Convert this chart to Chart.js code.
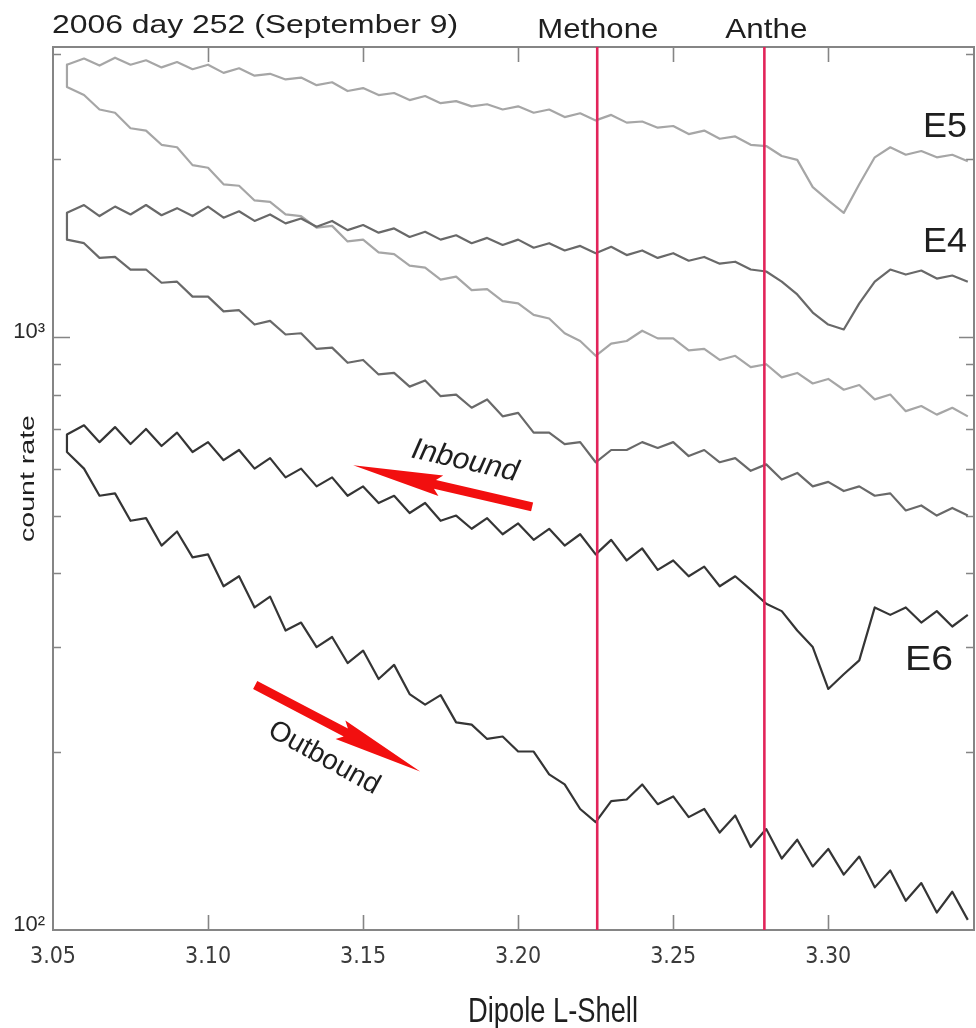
<!DOCTYPE html>
<html>
<head>
<meta charset="utf-8">
<script src="https://cdn.jsdelivr.net/npm/chart.js@4.4.0/dist/chart.umd.min.js"></script>
<style>
  html, body { margin: 0; padding: 0; background: #ffffff; }
  #wrap { width: 976px; height: 1028px; position: relative; }
  canvas { display: block; }
</style>
</head>
<body>
<div id="wrap"><canvas id="c" width="976" height="1028"></canvas></div>
<script>
// ---------- data ----------
const lShell = [3.0545, 3.060, 3.065, 3.070, 3.075, 3.080, 3.085, 3.090, 3.095, 3.100,
  3.105, 3.110, 3.115, 3.120, 3.125, 3.130, 3.135, 3.140, 3.145, 3.150,
  3.155, 3.160, 3.165, 3.170, 3.175, 3.180, 3.185, 3.190, 3.195, 3.200,
  3.205, 3.210, 3.215, 3.220, 3.225, 3.230, 3.235, 3.240, 3.245, 3.250,
  3.255, 3.260, 3.265, 3.270, 3.275, 3.280, 3.285, 3.290, 3.295, 3.300,
  3.305, 3.310, 3.315, 3.320, 3.325, 3.330, 3.335, 3.340, 3.345];

// inbound = upper branch, outbound = lower branch (values listed at increasing L)
const e5Inbound = [2880, 2950, 2870, 2960, 2880, 2930, 2850, 2910, 2830, 2880,
  2790, 2840, 2760, 2780, 2720, 2740, 2660, 2690, 2600, 2630,
  2560, 2580, 2510, 2550, 2480, 2500, 2450, 2470, 2420, 2450,
  2390, 2420, 2350, 2385, 2320, 2370, 2300, 2310, 2255, 2270,
  2200, 2230, 2160, 2180, 2110, 2100, 2020, 1990, 1790, 1700,
  1620, 1810, 2010, 2090, 2030, 2060, 2010, 2030, 1980];
const e5Outbound = [2640, 2560, 2420, 2390, 2250, 2230, 2110, 2090, 1950, 1930,
  1810, 1800, 1700, 1690, 1610, 1600, 1530, 1540, 1450, 1460,
  1390, 1380, 1320, 1310, 1250, 1265, 1200, 1205, 1150, 1140,
  1090, 1075, 1015, 985, 930, 975, 985, 1025, 995, 995,
  950, 955, 915, 930, 890, 900, 855, 870, 835, 850,
  815, 830, 785, 800, 750, 765, 740, 760, 735];
const e4Inbound = [1620, 1670, 1600, 1660, 1610, 1670, 1605, 1650, 1600, 1660,
  1590, 1630, 1570, 1610, 1555, 1585, 1535, 1570, 1515, 1545,
  1500, 1525, 1475, 1505, 1460, 1485, 1440, 1470, 1430, 1460,
  1415, 1440, 1400, 1425, 1385, 1420, 1375, 1400, 1360, 1385,
  1345, 1365, 1330, 1340, 1300, 1290, 1240, 1180, 1100, 1050,
  1030, 1140, 1240, 1300, 1275, 1295, 1255, 1270, 1240];
const e4Outbound = [1460, 1440, 1360, 1365, 1300, 1300, 1235, 1240, 1170, 1170,
  1105, 1110, 1050, 1065, 1010, 1015, 955, 960, 905, 915,
  865, 870, 825, 845, 795, 800, 760, 785, 735, 745,
  690, 690, 660, 665, 615, 645, 645, 665, 650, 665,
  630, 645, 615, 625, 595, 610, 575, 590, 560, 570,
  550, 560, 540, 545, 510, 520, 500, 515, 500];
const e6Inbound = [685, 710, 665, 705, 660, 700, 655, 690, 640, 665,
  620, 645, 600, 625, 580, 600, 560, 580, 540, 560,
  525, 540, 505, 525, 490, 500, 475, 495, 465, 485,
  455, 475, 445, 465, 430, 455, 420, 440, 405, 420,
  395, 410, 380, 395, 375, 355, 345, 320, 300, 255,
  270, 285, 350, 340, 350, 330, 345, 325, 340];
const e6Outbound = [640, 600, 540, 545, 490, 495, 445, 470, 425, 430,
  380, 395, 350, 365, 320, 330, 300, 312, 282, 296,
  265, 280, 250, 240, 249, 224, 222, 210, 212, 200,
  200, 183, 176, 160, 152, 165, 166, 176, 163, 168,
  155, 160, 146, 156, 138, 148, 132, 142, 128, 137,
  124, 133, 118, 126, 112, 120, 107, 116, 104];

const channelNames = ['E5', 'E4', 'E6'];
const moonNames = ['Methone', 'Anthe'];
const moonL = [3.2255, 3.2794];

const xTickValues = [3.05, 3.10, 3.15, 3.20, 3.25, 3.30];
const xTickLabels = ['3.05', '3.10', '3.15', '3.20', '3.25', '3.30'];
const yTickValues = [100, 200, 300, 400, 500, 600, 700, 800, 900, 1000, 2000, 3000];
const yMajorValues = [100, 1000];
const yMajorLabels = ['10\u00B2', '10\u00B3'];

// arrows in data units: [L, count]
const inboundArrow = { from: [3.2045, 517], to: [3.1468, 608] };
const outboundArrow = { from: [3.1152, 259], to: [3.1684, 185] };

// ---------- build datasets ----------
function loop(inb, outb) {
  const pts = [];
  for (let i = lShell.length - 1; i >= 0; i--) pts.push({ x: lShell[i], y: inb[i] });
  for (let i = 0; i < lShell.length; i++) pts.push({ x: lShell[i], y: outb[i] });
  return pts;
}
const channelData = [loop(e5Inbound, e5Outbound), loop(e4Inbound, e4Outbound), loop(e6Inbound, e6Outbound)];
const channelColors = ['#a6a6a6', '#696969', '#353535'];
const datasets = [];
channelNames.forEach((n, i) => {
  datasets.push({ label: n, data: channelData[i], borderColor: channelColors[i], borderWidth: 2.2,
    borderJoinStyle: 'round', pointRadius: 0, tension: 0, fill: false, order: 3 - i });
});
moonNames.forEach((n, i) => {
  datasets.push({ label: n, data: [{ x: moonL[i], y: 100 }, { x: moonL[i], y: 3085 }],
    borderColor: '#e2245a', borderWidth: 2.6, pointRadius: 0, fill: false, order: 0 });
});

// ---------- drawing helpers ----------
function stretchText(ctx, str, o) {
  ctx.save();
  ctx.translate(o.x, o.y);
  if (o.angle) ctx.rotate(o.angle * Math.PI / 180);
  ctx.font = (o.italic ? 'italic ' : '') + o.size + 'px "Liberation Sans", Arial, sans-serif';
  ctx.fillStyle = o.color || '#1f1f1f';
  ctx.textAlign = o.align || 'left';
  ctx.textBaseline = o.baseline || 'alphabetic';
  if (o.width) { const w = ctx.measureText(str).width; ctx.scale(o.width / w, 1); }
  ctx.fillText(str, 0, 0);
  ctx.restore();
}
function drawArrow(ctx, x0, y0, x1, y1, shaftHalf, headLen, headHalf) {
  const dx = x1 - x0, dy = y1 - y0, L = Math.hypot(dx, dy);
  const ux = dx / L, uy = dy / L, px = -uy, py = ux;
  const bx = x1 - ux * headLen, by = y1 - uy * headLen;
  ctx.beginPath();
  ctx.moveTo(x0 + px * shaftHalf, y0 + py * shaftHalf);
  ctx.lineTo(bx + px * shaftHalf, by + py * shaftHalf);
  ctx.lineTo(bx - ux * 6 + px * headHalf, by - uy * 6 + py * headHalf);
  ctx.lineTo(x1, y1);
  ctx.lineTo(bx - ux * 6 - px * headHalf, by - uy * 6 - py * headHalf);
  ctx.lineTo(bx - px * shaftHalf, by - py * shaftHalf);
  ctx.lineTo(x0 - px * shaftHalf, y0 - py * shaftHalf);
  ctx.closePath();
  ctx.fill();
}

const framePlugin = {
  id: 'frame',
  beforeDatasetsDraw(chart) {
    const { ctx, chartArea: a, scales: { x, y } } = chart;
    ctx.save();
    ctx.strokeStyle = '#858585';
    ctx.lineWidth = 2;
    ctx.strokeRect(a.left, a.top, a.right - a.left, a.bottom - a.top);
    ctx.lineWidth = 1.6;
    ctx.beginPath();
    xTickValues.forEach(v => {
      const px = Math.round(x.getPixelForValue(v)) + 0.5;
      if (px < a.left + 3) return;
      ctx.moveTo(px, a.bottom); ctx.lineTo(px, a.bottom - 15);
      ctx.moveTo(px, a.top); ctx.lineTo(px, a.top + 15);
    });
    yTickValues.forEach(v => {
      const py = Math.round(y.getPixelForValue(v)) + 0.5;
      if (py > a.bottom - 3) return;
      const major = yMajorValues.includes(v);
      ctx.moveTo(a.left, py); ctx.lineTo(a.left + (major ? 17 : 8), py);
      ctx.moveTo(a.right, py); ctx.lineTo(a.right - (major ? 15 : 8), py);
    });
    ctx.stroke();
    ctx.restore();
  },
  afterDatasetsDraw(chart) {
    const { ctx, scales: { x, y } } = chart;
    ctx.save();
    ctx.fillStyle = '#f20f0f';
    [inboundArrow, outboundArrow].forEach(ar => {
      drawArrow(ctx, x.getPixelForValue(ar.from[0]), y.getPixelForValue(ar.from[1]),
        x.getPixelForValue(ar.to[0]), y.getPixelForValue(ar.to[1]), 4.5, 84, 10.5);
    });
    ctx.restore();
  },
  afterDraw(chart) {
    const { ctx, scales: { x } } = chart;
    stretchText(ctx, '2006 day 252 (September 9)', { x: 52, y: 33, size: 25.5, width: 406 });
    stretchText(ctx, moonNames[0], { x: x.getPixelForValue(moonL[0]) + 0.5, y: 38, size: 28, width: 121, align: 'center' });
    stretchText(ctx, moonNames[1], { x: x.getPixelForValue(moonL[1]) + 2, y: 38, size: 28, width: 82, align: 'center' });
    stretchText(ctx, channelNames[0], { x: 923, y: 137, size: 35, width: 44 });
    stretchText(ctx, channelNames[1], { x: 923, y: 252, size: 35, width: 44 });
    stretchText(ctx, channelNames[2], { x: 905, y: 670, size: 35, width: 48 });
    stretchText(ctx, 'count rate', { x: 34, y: 478.5, angle: -90, size: 20.5, width: 127, align: 'center' });
    stretchText(ctx, 'Dipole L-Shell', { x: 468, y: 1022, size: 35, width: 170 });
    stretchText(ctx, 'Inbound', { x: 465, y: 461, angle: 12.7, size: 30, italic: true, align: 'center', baseline: 'middle' });
    stretchText(ctx, 'Outbound', { x: 324, y: 758, angle: 29, size: 28, align: 'center', baseline: 'middle' });
  }
};

new Chart(document.getElementById('c').getContext('2d'), {
  type: 'line',
  data: { datasets },
  options: {
    responsive: false,
    animation: false,
    devicePixelRatio: 1,
    layout: { padding: { top: 47, right: 2, left: 0, bottom: 0 } },
    plugins: { legend: { display: false }, tooltip: { enabled: false }, title: { display: false } },
    scales: {
      x: {
        type: 'linear', min: 3.05, max: 3.347,
        grid: { display: false, drawTicks: false },
        border: { display: false },
        afterBuildTicks: s => { s.ticks = xTickValues.map(v => ({ value: v })); },
        afterFit: s => { s.height = 98; },
        ticks: {
          autoSkip: false, maxRotation: 0, padding: 13, color: '#3a3a3a',
          font: { family: '"Liberation Sans Narrow", "DejaVu Sans Condensed", "Liberation Sans", sans-serif', size: 23 },
          callback: v => { const i = xTickValues.indexOf(v); return i >= 0 ? xTickLabels[i] : ''; }
        }
      },
      y: {
        type: 'logarithmic', min: 100, max: 3085,
        grid: { display: false, drawTicks: false },
        border: { display: false },
        afterBuildTicks: s => { s.ticks = yTickValues.map(v => ({ value: v })); },
        afterFit: s => { s.width = 53; },
        ticks: {
          autoSkip: false, padding: 8, color: '#2a2a2a', labelOffset: -5,
          font: { family: '"Liberation Sans", Arial, sans-serif', size: 22 },
          callback: v => { const i = yMajorValues.indexOf(v); return i >= 0 ? yMajorLabels[i] : ''; }
        }
      }
    }
  },
  plugins: [framePlugin]
});
</script>
</body>
</html>
